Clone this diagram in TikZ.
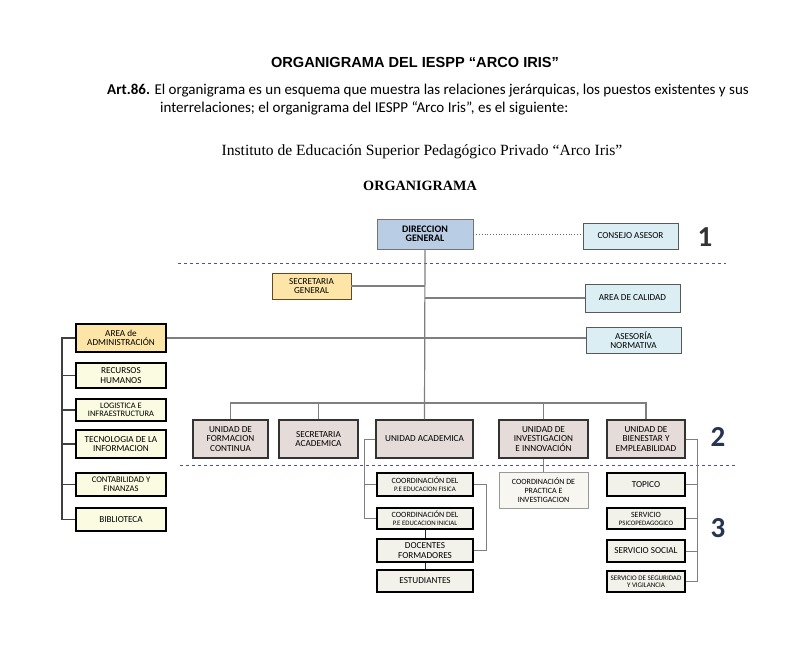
\documentclass[tikz,border=0pt]{standalone}
\usepackage{fontspec}
\setmainfont{Carlito}
\newfontfamily\arialf{Liberation Sans}
\newfontfamily\timesf{Liberation Serif}
\usetikzlibrary{arrows,shapes}

\definecolor{dgblue}{HTML}{B9CDE5}
\definecolor{paleblue}{HTML}{DBEEF4}
\definecolor{gold}{HTML}{FCE5A6}
\definecolor{ivory}{HTML}{FAFBE0}
\definecolor{mauve}{HTML}{E5DBD8}
\definecolor{offwhite}{HTML}{F3F2EA}
\definecolor{linegray}{HTML}{7F7F7F}
\definecolor{dashblue}{HTML}{4848D0}
\definecolor{navy}{HTML}{26354F}

\begin{document}
\begin{tikzpicture}[x=1pt,y=-1pt,font=\fontsize{9.2}{9.6}\selectfont]
  \tikzstyle{box}=[rectangle,draw,align=center,inner sep=1pt]
  \tikzstyle{head}=[box,fill=dgblue,draw=black!55,line width=0.8pt]
  \tikzstyle{staff}=[box,fill=paleblue,draw=black!65,line width=0.8pt]
  \tikzstyle{admin}=[box,fill=gold,draw=black,line width=1.3pt]
  \tikzstyle{adminsub}=[box,fill=ivory,draw=black,line width=1.2pt,
              minimum width=90pt]
  \tikzstyle{unit}=[box,fill=mauve,draw=black!80,line width=1.4pt,
              minimum height=38pt]
  \tikzstyle{sub}=[box,fill=offwhite,draw=black,line width=1.1pt]
  \tikzstyle{link}=[draw=linegray,line width=1.2pt]
  \tikzstyle{divider}=[dashed,dashblue,line width=1pt]
  \tikzstyle{level}=[font=\fontsize{29}{29}\selectfont\bfseries]
  \fill[white] (0,0) rectangle (787,647);
  \useasboundingbox (0,0) rectangle (787,647);

  % titles
  \node (title) at (415,62) {\arialf\fontsize{14.6}{16}\selectfont\bfseries ORGANIGRAMA DEL IESPP “ARCO IRIS”};
  \node [anchor=north west,align=left,inner sep=0pt,font=\fontsize{15}{18}\selectfont] (art) at (107,83.5)
    {\textbf{Art.86.} El organigrama es un esquema que muestra las relaciones jerárquicas, los puestos existentes y sus\\
     \hspace*{53pt}interrelaciones; el organigrama del IESPP “Arco Iris”, es el siguiente:};
  \node (inst) at (422,152) {\timesf\fontsize{15.6}{17}\selectfont Instituto de Educación Superior Pedagógico Privado “Arco Iris”};
  \node (org) at (420,186) {\timesf\fontsize{14.2}{16}\selectfont\bfseries ORGANIGRAMA};

  % level 1
  \node [head,minimum width=96pt,minimum height=30pt,font=\fontsize{10}{9.4}\selectfont\bfseries] (dg) at (425,234) {DIRECCION\\GENERAL};
  \node [staff,minimum width=95pt,minimum height=26pt] (ca) at (630.5,236) {CONSEJO ASESOR};
  \node [level,text=black!80] (n1) at (705,237) {1};

  \draw[divider] (178,263) -- (726,263);

  \node [box,fill=gold,draw=black!45!brown,line width=0.8pt,minimum width=79pt,minimum height=26pt] (sg) at (311.5,286) {SECRETARIA\\GENERAL};
  \node [staff,minimum width=95pt,minimum height=28pt] (ac) at (632.5,298) {AREA DE CALIDAD};
  \node [staff,minimum width=95pt,minimum height=26pt] (an) at (633.5,340) {ASESORÍA\\NORMATIVA};

  % administration
  \node [admin,minimum width=90pt,minimum height=28pt] (adm) at (121,338) {AREA de\\ADMINISTRACIÓN};
  \node [adminsub,minimum height=25pt] (rh) at (121,375.5) {RECURSOS\\HUMANOS};
  \node [adminsub,minimum height=22pt,font=\fontsize{8.4}{8.4}\selectfont] (log) at (121,410) {LOGISTICA E\\INFRAESTRUCTURA};
  \node [adminsub,minimum height=28pt] (ti) at (121,444) {TECNOLOGIA DE LA\\INFORMACION};
  \node [adminsub,minimum height=23pt,font=\fontsize{8.6}{8.6}\selectfont] (cf) at (121,484.5) {CONTABILIDAD Y\\FINANZAS};
  \node [adminsub,minimum height=23pt] (bib) at (121,519.5) {BIBLIOTECA};

  % level 2
  \node [unit,minimum width=75pt] (ufc) at (230.5,439) {UNIDAD DE\\FORMACION\\CONTINUA};
  \node [unit,minimum width=79pt] (sa) at (318.5,439) {SECRETARIA\\ACADEMICA};
  \node [unit,minimum width=97pt] (ua) at (424.5,439) {UNIDAD ACADEMICA};
  \node [unit,minimum width=89pt] (uii) at (543.5,439) {UNIDAD DE\\INVESTIGACION\\E INNOVACIÓN};
  \node [unit,minimum width=78pt] (ube) at (646,439) {UNIDAD DE\\BIENESTAR Y\\EMPLEABILIDAD};
  \node [level,text=navy] (n2) at (718,437) {2};

  \draw[divider] (180,465) -- (735,465);

  % level 3
  \node [sub,minimum width=96pt,minimum height=23pt,font=\fontsize{8}{8}\selectfont] (cfis) at (425,484.5) {COORDINACIÓN DEL\\{\fontsize{6.8}{6.8}\selectfont P.E EDUCACION FISICA}};
  \node [sub,minimum width=96pt,minimum height=21pt,font=\fontsize{8}{8}\selectfont] (cini) at (425,518.5) {COORDINACIÓN DEL\\{\fontsize{6.8}{6.8}\selectfont P.E EDUCACION INICIAL}};
  \node [sub,minimum width=96pt,minimum height=23pt] (df) at (425,550.5) {DOCENTES\\FORMADORES};
  \node [sub,minimum width=96pt,minimum height=22pt] (est) at (425,581) {ESTUDIANTES};
  \node [box,fill=offwhite!70!white,draw=black!40,line width=0.8pt,minimum width=89pt,minimum height=36pt,font=\fontsize{8}{9}\selectfont] (cpi) at (543.5,490) {COORDINACIÓN DE\\PRACTICA E\\INVESTIGACION};
  \node [sub,minimum width=78pt,minimum height=23pt] (top) at (646,484.5) {TOPICO};
  \node [sub,minimum width=78pt,minimum height=21pt,font=\fontsize{8}{8}\selectfont] (sp) at (646,518.5) {SERVICIO\\{\fontsize{6.8}{6.8}\selectfont PSICOPEDAGOGICO}};
  \node [sub,minimum width=78pt,minimum height=22pt] (ss) at (646,551) {SERVICIO SOCIAL};
  \node [sub,minimum width=78pt,minimum height=21pt,inner sep=0pt,font=\fontsize{7}{7.2}\selectfont] (ssv) at (646,581.5) {SERVICIO DE SEGURIDAD\\Y VIGILANCIA};
  \node [level,text=navy] (n3) at (718,528) {3};

  % connectors
  \draw[dotted,line width=0.8pt,black!60] (dg.east) -- (dg.east -| ca.west);
  \coordinate (bar) at (425,403);
  \draw[link] (dg.south) -- (ua.north);
  \draw[link] (sg.east) -- (sg.east -| dg.south);
  \draw[link] (ac.west) -- (ac.west -| dg.south);
  \draw[link] (adm.east) -- (adm.east -| an.west);
  \draw[link] (ufc.north) |- (bar) -| (ube.north);
  \foreach \n in {sa,uii} \draw[link] (\n.north) -- (\n.north |- bar);

  \coordinate (al) at (62,338);
  \draw[link,draw=black!75] (adm.west) -- (al) |- (bib.west);
  \foreach \n in {rh,log,ti,cf} \draw[link,draw=black!75] (\n.west) -- (\n.west -| al);

  \coordinate (ul) at (364,443);
  \coordinate (ur) at (486,487);
  \draw[link,line width=1pt] (ua.west) -- (ua.west -| ul) |- (cini.west);
  \draw[link,line width=1pt] (cfis.west) -- (cfis.west -| ul);
  \draw[link,line width=1pt] (cfis.east) -- (cfis.east -| ur) |- (df.east);
  \draw[link,draw=black!85,line width=1pt] (cini) -- (df);
  \draw[link,draw=black!85,line width=1pt] (df) -- (est);
  \draw[link,line width=1pt] (uii) -- (cpi);

  \coordinate (br) at (697,443);
  \draw[link,line width=1pt] (ube.east) -- (ube.east -| br) |- (ssv.east);
  \foreach \n in {top,sp,ss} \draw[link,line width=1pt] (\n.east) -- (\n.east -| br);
\end{tikzpicture}
\end{document}
